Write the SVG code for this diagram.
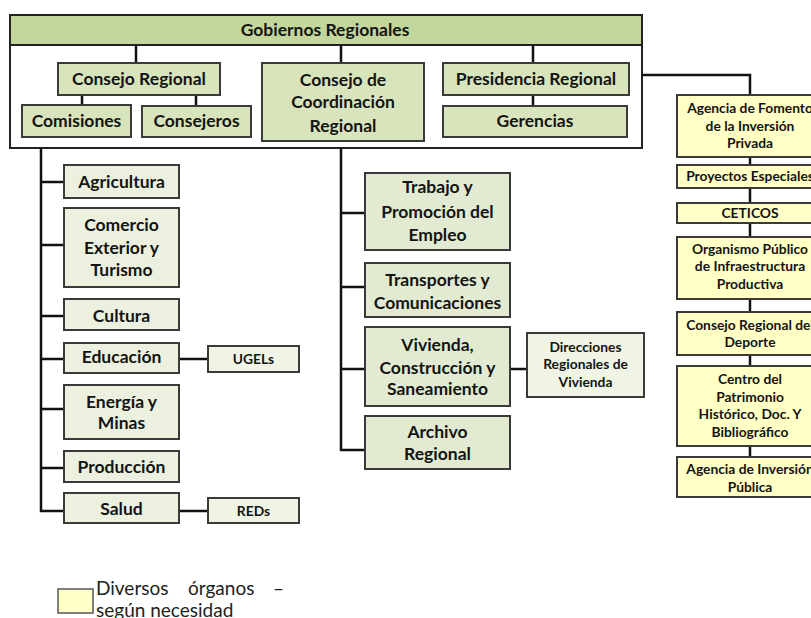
<svg xmlns="http://www.w3.org/2000/svg" width="811" height="618" viewBox="0 0 811 618">
<style>
text{font-family:Lato,"Liberation Sans",sans-serif;font-weight:bold;fill:#141414;text-anchor:middle}
.m{font-size:17.5px}
.s{font-size:13.8px}
.box{stroke:#3a3a3a;stroke-width:2}
.g1{fill:#d8e4bc}
.gl{fill:#ebf1de}
.gm{fill:#e2ebd1}
.gx{fill:#eff4e4}
.y{fill:#ffffc6}
.c{fill:none;stroke:#111;stroke-width:2.5}
.leg{font-weight:normal;font-size:19px;text-anchor:start;fill:#222}
</style>
<rect width="811" height="618" fill="#fff"/>

<g id="gobiernos-regionales">
<rect x="10" y="15" width="632" height="133" fill="#fff" stroke="#222" stroke-width="2"/>
<rect x="10" y="15" width="632" height="30" fill="#c3d69b" stroke="#222" stroke-width="2"/>
<text class="m" x="325" y="36">Gobiernos Regionales</text>
</g>

<g id="connectors">
<path class="c" d="M136,45V63M82,95V105M196,95V106M341,45V63M533,45V63M533,95V106"/>
<path class="c" d="M41,148V511H64M41,182H64M41,245H64M41,316H64M41,359H64M41,409H64M41,468H64M179,359H208M179,511H208"/>
<path class="c" d="M341,148V450H365M341,213H365M341,287H365M341,369H365M510,369H527"/>
<path class="c" d="M642,75H750V470"/>
</g>

<g id="consejo-regional"><rect class="box g1" x="58" y="63" width="162" height="32"/><text class="m" x="139" y="85">Consejo Regional</text></g>
<g id="comisiones"><rect class="box g1" x="22" y="105" width="109" height="32"/><text class="m" x="76.5" y="127">Comisiones</text></g>
<g id="consejeros"><rect class="box g1" x="142" y="106" width="109" height="31"/><text class="m" x="196.5" y="127">Consejeros</text></g>
<g id="consejo-coordinacion"><rect class="box g1" x="262" y="63" width="162" height="78"/><text class="m" x="343" y="86">Consejo de</text><text class="m" x="343" y="108">Coordinación</text><text class="m" x="343" y="132">Regional</text></g>
<g id="presidencia-regional"><rect class="box g1" x="443" y="63" width="186" height="32"/><text class="m" x="536" y="85">Presidencia Regional</text></g>
<g id="gerencias"><rect class="box g1" x="443" y="106" width="184" height="31"/><text class="m" x="535" y="127">Gerencias</text></g>

<g id="agricultura"><rect class="box gl" x="64" y="165" width="115" height="33"/><text class="m" x="121.5" y="188">Agricultura</text></g>
<g id="comercio"><rect class="box gl" x="64" y="208" width="115" height="79"/><text class="m" x="121.5" y="231">Comercio</text><text class="m" x="121.5" y="254">Exterior y</text><text class="m" x="121.5" y="276">Turismo</text></g>
<g id="cultura"><rect class="box gl" x="64" y="299" width="115" height="31"/><text class="m" x="121.5" y="322">Cultura</text></g>
<g id="educacion"><rect class="box gl" x="64" y="343" width="115" height="30"/><text class="m" x="121.5" y="363">Educación</text></g>
<g id="energia"><rect class="box gl" x="64" y="385" width="115" height="54"/><text class="m" x="121.5" y="408">Energía y</text><text class="m" x="121.5" y="429">Minas</text></g>
<g id="produccion"><rect class="box gl" x="64" y="451" width="115" height="31"/><text class="m" x="121.5" y="473">Producción</text></g>
<g id="salud"><rect class="box gl" x="64" y="493" width="115" height="30"/><text class="m" x="121.5" y="515">Salud</text></g>
<g id="ugels"><rect class="box gx" x="208" y="346" width="91" height="26"/><text class="s" x="253.5" y="364">UGELs</text></g>
<g id="reds"><rect class="box gx" x="208" y="498" width="91" height="25"/><text class="s" x="253.5" y="516">REDs</text></g>

<g id="trabajo"><rect class="box gm" x="365" y="173" width="145" height="77"/><text class="m" x="437.5" y="193">Trabajo y</text><text class="m" x="437.5" y="218">Promoción del</text><text class="m" x="437.5" y="241">Empleo</text></g>
<g id="transportes"><rect class="box gm" x="365" y="263" width="145" height="54"/><text class="m" x="437.5" y="286">Transportes y</text><text class="m" x="437.5" y="309">Comunicaciones</text></g>
<g id="vivienda"><rect class="box gm" x="365" y="327" width="145" height="79"/><text class="m" x="437.5" y="351">Vivienda,</text><text class="m" x="437.5" y="374">Construcción y</text><text class="m" x="437.5" y="395">Saneamiento</text></g>
<g id="archivo"><rect class="box gm" x="365" y="416" width="145" height="53"/><text class="m" x="437.5" y="438">Archivo</text><text class="m" x="437.5" y="460">Regional</text></g>
<g id="direcciones-vivienda"><rect class="box gx" x="527" y="333" width="117" height="64"/><text class="s" x="585.5" y="352">Direcciones</text><text class="s" x="585.5" y="369">Regionales de</text><text class="s" x="585.5" y="387">Vivienda</text></g>

<g id="agencia-fomento"><rect class="box y" x="677" y="95" width="146" height="62"/><text class="s" x="750" y="113">Agencia de Fomento</text><text class="s" x="750" y="131">de la Inversión</text><text class="s" x="750" y="148">Privada</text></g>
<g id="proyectos-especiales"><rect class="box y" x="677" y="165" width="146" height="23"/><text class="s" x="750" y="181">Proyectos Especiales</text></g>
<g id="ceticos"><rect class="box y" x="677" y="203" width="146" height="20"/><text class="s" x="750" y="218">CETICOS</text></g>
<g id="organismo-publico"><rect class="box y" x="677" y="237" width="146" height="62"/><text class="s" x="750" y="254">Organismo Público</text><text class="s" x="750" y="271">de Infraestructura</text><text class="s" x="750" y="289">Productiva</text></g>
<g id="consejo-deporte"><rect class="box y" x="677" y="312" width="146" height="43"/><text class="s" x="750" y="330">Consejo Regional del</text><text class="s" x="750" y="347">Deporte</text></g>
<g id="centro-patrimonio"><rect class="box y" x="677" y="366" width="146" height="80"/><text class="s" x="750" y="384">Centro del</text><text class="s" x="750" y="402">Patrimonio</text><text class="s" x="750" y="419">Histórico, Doc. Y</text><text class="s" x="750" y="437">Bibliográfico</text></g>
<g id="agencia-inversion"><rect class="box y" x="677" y="457" width="146" height="40"/><text class="s" x="750" y="474">Agencia de Inversión</text><text class="s" x="750" y="492">Pública</text></g>

<g id="legend">
<rect x="58" y="589" width="35" height="24" fill="#ffffc6" stroke="#555" stroke-width="1.5"/>
<text class="leg" y="595"><tspan x="96">Diversos</tspan><tspan x="188">órganos</tspan><tspan x="273">–</tspan></text>
<text class="leg" x="96" y="617">según necesidad</text>
</g>
</svg>
